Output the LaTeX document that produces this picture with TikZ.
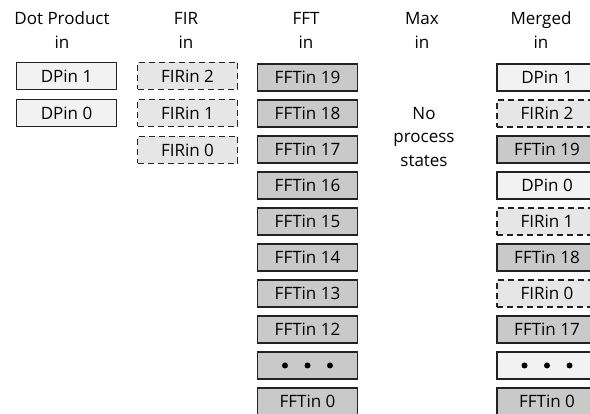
\documentclass[tikz,border=0pt]{standalone}
\usepackage{fontspec}
\setmainfont{Open Sans}
\definecolor{dpfill}{HTML}{F2F2F2}
\definecolor{firfill}{HTML}{E6E6E6}
\definecolor{fftfill}{HTML}{C9C9C9}
\definecolor{edge}{HTML}{222222}
\begin{document}
\begin{tikzpicture}[x=1pt,y=-1pt,
  cell/.style={draw=edge,line width=1.6pt,minimum width=100pt,minimum height=27pt,inner sep=0pt,font=\fontsize{17}{17}\selectfont},
  dpcell/.style={cell,fill=dpfill},
  fircell/.style={cell,fill=firfill,dash pattern=on 6pt off 4pt},
  fftcell/.style={cell,fill=fftfill},
  dots/.style={path picture={
    \foreach \dx in {-22.5,0,22.5}
      \fill[black] ([xshift=\dx pt]path picture bounding box.center) circle (3pt);}},
  head/.style={align=center,font=\fontsize{17}{24}\selectfont,inner sep=0pt}]
\clip (0,0) rectangle (590,414);
\fill[white] (0,0) rectangle (590,414);
% headers
\node[head] (hdp) at (62,30) {Dot Product\\in};
\node[head] (hfir) at (186,30) {FIR\\in};
\node[head] (hfft) at (306,30) {FFT\\in};
\node[head] (hmax) at (422,30) {Max\\in};
\node[head] (hmer) at (541,30) {Merged\\in};
% dot product
\node[dpcell] (dp1) at (66.5,76) {DPin 1};
\node[dpcell] (dp0) at (66.5,113) {DPin 0};
% FIR
\node[fircell] (fir2) at (187.5,76) {FIRin 2};
\node[fircell] (fir1) at (187.5,113) {FIRin 1};
\node[fircell] (fir0) at (187.5,150) {FIRin 0};
% FFT
\foreach \lab [count=\i from 0] in {19,18,17,16,15,14,13,12} {
  \node[fftcell] (fft\lab) at (307.5,77.5+36*\i) {FFTin \lab};
}
\node[fftcell,dots] (fftdots) at (307.5,77.5+36*8) {};
\node[fftcell] (fft0) at (307.5,77.5+36*9) {FFTin 0};
% Max
\node[align=center,font=\fontsize{17}{23.5}\selectfont,inner sep=0pt] (nostates) at (424,137) {No\\process\\states};
% Merged
\node[dpcell] (m1) at (547,77.5) {DPin 1};
\node[fircell] (m2) at (547,77.5+36) {FIRin 2};
\node[fftcell] (m3) at (547,77.5+36*2) {FFTin 19};
\node[dpcell] (m4) at (547,77.5+36*3) {DPin 0};
\node[fircell] (m5) at (547,77.5+36*4) {FIRin 1};
\node[fftcell] (m6) at (547,77.5+36*5) {FFTin 18};
\node[fircell] (m7) at (547,77.5+36*6) {FIRin 0};
\node[fftcell] (m8) at (547,77.5+36*7) {FFTin 17};
\node[dpcell,dots] (m9) at (547,77.5+36*8) {};
\node[fftcell] (m10) at (547,77.5+36*9) {FFTin 0};
\end{tikzpicture}
\end{document}
